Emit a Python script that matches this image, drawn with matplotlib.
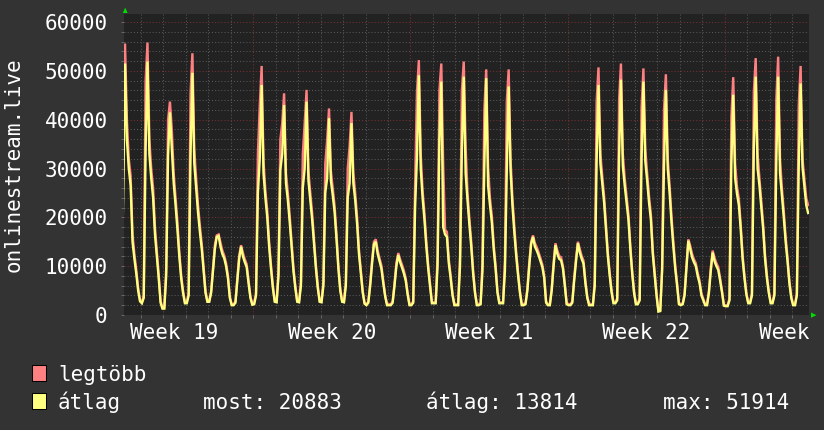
import matplotlib
matplotlib.use("Agg")
import matplotlib.pyplot as plt
from matplotlib.patches import Rectangle, Polygon
from matplotlib.transforms import Bbox, TransformedBbox, blended_transform_factory

# mintavetel: minden nap paratlan oraiban (1, 3, ..., 23), az 1. nap = Week 19 kedd
orak = [1, 3, 5, 7, 9, 11, 13, 15, 17, 19, 21, 23]

# atlag (sarga) - soronkent egy nap
atlag = [
    [2500, 2400, 24000, 51500, 36000, 30000, 26500, 15000, 11500, 8500, 5000, 2800],   # W19 K
    [2400, 3500, 34000, 51914, 33000, 28000, 24000, 16500, 12000, 7500, 2500, 1300],   # W19 Sze
    [1300, 8000, 32700, 41500, 34000, 27000, 22500, 17500, 12000, 7500, 4500, 2400],   # W19 Cs
    [2400, 4000, 32700, 49600, 31000, 26000, 21000, 17000, 13500, 9000, 4500, 2700],   # W19 P
    [2700, 4500, 9000, 13500, 16000, 16200, 14000, 12500, 11600, 10000, 7500, 3500],   # W19 Szo
    [2000, 2000, 2500, 7000, 11500, 14000, 12000, 10800, 9800, 6500, 3500, 2100],      # W19 V
    [2200, 4000, 25000, 32000, 47100, 29000, 24000, 20000, 14000, 9500, 5500, 2700],   # W20 H
    [2600, 8000, 29700, 33000, 43000, 27000, 23500, 19000, 14000, 9000, 5500, 2700],
    [2600, 6000, 26000, 30000, 43700, 27500, 23500, 19500, 14500, 9500, 5500, 2700],
    [2600, 6000, 25000, 28000, 40300, 27500, 24500, 21000, 15500, 9500, 5000, 2700],
    [2600, 6000, 24000, 27000, 39300, 27000, 23500, 18700, 12500, 8500, 4600, 2300],
    [2000, 2500, 6000, 10500, 14500, 15000, 12500, 11000, 9500, 6500, 3800, 2000],
    [2000, 2000, 2500, 6000, 10000, 12300, 10800, 9700, 8500, 7000, 4200, 2000],
    [2000, 2500, 22000, 32400, 49100, 30000, 24000, 19500, 14000, 9500, 5800, 2400],   # W21 H
    [2400, 2400, 10000, 35800, 47800, 18000, 16500, 16000, 10600, 7500, 4000, 2000],
    [2000, 2000, 10000, 33800, 48800, 29000, 23500, 18500, 14000, 8500, 4500, 2000],
    [2000, 2200, 9000, 30400, 48500, 26500, 22500, 19000, 13500, 9500, 4600, 2400],
    [2400, 2400, 9000, 29700, 46800, 29700, 22500, 17000, 12200, 8200, 4600, 2000],
    [2000, 2200, 5000, 10000, 14500, 16000, 14000, 13200, 12200, 11000, 9800, 7500],
    [2500, 2000, 2000, 5000, 10000, 14300, 12500, 11500, 11200, 9500, 6000, 2200],
    [2000, 2000, 2500, 7000, 11000, 14700, 12800, 11500, 10500, 6500, 3500, 2000],     # W22 H
    [2000, 2000, 6000, 31700, 47100, 31000, 27000, 23000, 17500, 12000, 8000, 4600],
    [2400, 2400, 3000, 32400, 48200, 30500, 26500, 23000, 19500, 13500, 8500, 4500],
    [2200, 2200, 3000, 31700, 47800, 31500, 27500, 23000, 19500, 12500, 8200, 4000],
    [700, 800, 9000, 30400, 46100, 30000, 25000, 19000, 14000, 9500, 6000, 2200],
    [2000, 2200, 4000, 9500, 15200, 13500, 11800, 10800, 10000, 8000, 6500, 4000],
    [3000, 2000, 2000, 4500, 9000, 12800, 11000, 10000, 9200, 7000, 4600, 1900],
    [1800, 1800, 3000, 31000, 45100, 28000, 24800, 22500, 17500, 11500, 7500, 4200],   # W23 H
    [2400, 2400, 4000, 33800, 48800, 30000, 26500, 22000, 17500, 11500, 7500, 4500],
    [2400, 2400, 4000, 31000, 48800, 29000, 24500, 20000, 15000, 11000, 6500, 3500],
    [2000, 2000, 4000, 30400, 47400, 30300, 26300, 22500, 20883],
]

# legtobb (rozsaszin) - soronkent egy nap
legtobb = [
    [2700, 2600, 30000, 55600, 40000, 32000, 28500, 16500, 12500, 9300, 5600, 3100],
    [2600, 4000, 48000, 55800, 36000, 30000, 26000, 18000, 13000, 8300, 2900, 1500],
    [1500, 9500, 40000, 43700, 38000, 29000, 24000, 19000, 13000, 8200, 5000, 2600],
    [2600, 4500, 45400, 53600, 34000, 28000, 22500, 18300, 14500, 9800, 5000, 2900],
    [2900, 4900, 9700, 14300, 16300, 16500, 14800, 13200, 12200, 10600, 8100, 3800],
    [2200, 2200, 2800, 7600, 12200, 14300, 12700, 11400, 10400, 7000, 3800, 2300],
    [2400, 4500, 33000, 43000, 51000, 31500, 25500, 21300, 15000, 10200, 6000, 2900],
    [2800, 9000, 36000, 39300, 45400, 29000, 25000, 20300, 15000, 9700, 6000, 2900],
    [2800, 6800, 33000, 39300, 46100, 29500, 25000, 20800, 15500, 10200, 6000, 2900],
    [2800, 6800, 31000, 35800, 42300, 29500, 26000, 22300, 16500, 10200, 5500, 2900],
    [2800, 6800, 30000, 34500, 41600, 29000, 25000, 20000, 13400, 9200, 5000, 2500],
    [2200, 2700, 6500, 11200, 15000, 15500, 13200, 11600, 10100, 7000, 4100, 2200],
    [2200, 2200, 2800, 6500, 10700, 12700, 11400, 10300, 9100, 7500, 4600, 2200],
    [2200, 2800, 27000, 45700, 52200, 33000, 25500, 20800, 15000, 10200, 6300, 2600],
    [2600, 2600, 12000, 46000, 51500, 31000, 17500, 17000, 11400, 8100, 4400, 2200],
    [2200, 2200, 12000, 46000, 51900, 34500, 25000, 19800, 15000, 9200, 4900, 2200],
    [2200, 2400, 11000, 42000, 50300, 30400, 24000, 20300, 14500, 10200, 5000, 2600],
    [2600, 2600, 11000, 43700, 50300, 32000, 24000, 18300, 13100, 8800, 5000, 2200],
    [2200, 2400, 5500, 10700, 15000, 16300, 14700, 13900, 12800, 11600, 10300, 8000],
    [2800, 2200, 2200, 5500, 10700, 14700, 13200, 12100, 11800, 10000, 6500, 2400],
    [2200, 2200, 2800, 7600, 11700, 15000, 13500, 12100, 11100, 7000, 3800, 2200],
    [2200, 2200, 7000, 43700, 50700, 33000, 28500, 24300, 18500, 12800, 8600, 5000],
    [2600, 2600, 3400, 44000, 51500, 33000, 28000, 24300, 20600, 14300, 9100, 4900],
    [2400, 2400, 3400, 42500, 50500, 34000, 29000, 24300, 20600, 13300, 8800, 4400],
    [900, 1000, 10000, 42000, 49300, 32000, 26500, 20300, 15000, 10200, 6500, 2400],
    [2200, 2400, 4400, 10200, 15500, 14200, 12500, 11400, 10600, 8600, 7000, 4400],
    [3300, 2200, 2200, 5000, 9700, 13200, 11700, 10600, 9800, 7500, 5000, 2100],
    [2000, 2000, 3400, 40600, 48700, 31000, 26300, 23800, 18500, 12300, 8100, 4600],
    [2600, 2600, 4500, 45700, 52600, 33000, 28000, 23300, 18500, 12300, 8100, 4900],
    [2600, 2600, 4500, 44000, 52900, 32000, 26000, 21300, 16000, 11800, 7000, 3800],
    [2200, 2200, 4500, 43000, 51000, 32000, 28000, 24000, 22500],
]

het_cimkek = ["Week 19", "Week 20", "Week 21", "Week 22", "Week 23"]
y_cimkek = ["0", "10000", "20000", "30000", "40000", "50000", "60000"]
stat_nevek = ["most:", "átlag:", "max:"]
stat_ertekek = [20883, 13814, 51914]

W, H = 824, 430


def fx(px):
    return px / W


def fy(py):
    return 1 - py / H


plt.rcParams['font.family'] = ['DejaVu Sans Mono']
FS = 15
TXT = '#ffffff'

# orak a Week 19 hetfo 0:00-tol
xs, ys_atl, ys_max = [], [], []
for d, (ra, rm) in enumerate(zip(atlag, legtobb), start=1):
    for h, a, m in zip(orak, ra, rm):
        xs.append(24 * d + h)
        ys_atl.append(a)
        ys_max.append(m)

fig = plt.figure(figsize=(W / 100, H / 100), dpi=100, facecolor='#333333')
ax = fig.add_axes([fx(124), fy(315), (809.5 - 124) / W, (315 - 14) / H], facecolor='#222222')

ax.plot(xs, ys_max, color='#ff8080', lw=1.7, zorder=3, solid_joinstyle='miter')
ax.plot(xs, ys_atl, color='#ffff80', lw=1.7, zorder=4, solid_joinstyle='miter')

ax.set_xlim(29.9, 762.5)
ax.set_ylim(0, 61640)

ax.set_yticks(range(0, 60001, 10000))
ax.set_yticklabels(y_cimkek)
ax.set_yticks(range(0, 61641, 2000), minor=True)
ax.set_xticks(range(168, 763, 168))
ax.set_xticks(range(48, 763, 24), minor=True)

ax.grid(which='major', color='#7a3030', linestyle=(0, (1, 2)), lw=0.75)
ax.grid(which='minor', color='#585858', linestyle=(0, (1, 2)), lw=0.75)
ax.tick_params(which='both', direction='out', length=2.2, width=0.75, color='#666666')
ax.tick_params(axis='x', labelbottom=False)
ax.tick_params(axis='y', labelsize=FS, labelcolor=TXT, pad=9.5)
for s in ax.spines.values():
    s.set_visible(False)

# het cimkek a het kozepere, jobb szelen levagva (mint az eredetin)
tr = blended_transform_factory(ax.transData, fig.transFigure)
clip = TransformedBbox(Bbox([[0, 0], [fx(811), 1]]), fig.transFigure)
for i, lbl in enumerate(het_cimkek):
    t = fig.text(84 + 168 * i, fy(339), lbl, transform=tr, ha='center', va='baseline',
                 fontsize=FS, color=TXT)
    t.set_clip_box(clip)
    t.set_clip_on(True)

fig.text(fx(13.5), fy(164.5), 'onlinestream.live', rotation=90, ha='center', va='center',
         fontsize=FS, color=TXT)

# nyilak
fig.add_artist(Polygon([[fx(122.8), fy(13)], [fx(127.6), fy(13)], [fx(125.2), fy(7.5)]],
                       closed=True, transform=fig.transFigure, color='#00dd00', lw=0))
fig.add_artist(Polygon([[fx(811), fy(312.5)], [fx(811), fy(317.8)], [fx(816.5), fy(315.2)]],
                       closed=True, transform=fig.transFigure, color='#00dd00', lw=0))

# jelmagyarazat
for py, col, nev in [(381, '#ff8080', 'legtöbb'), (409, '#ffff80', 'átlag')]:
    fig.add_artist(Rectangle((fx(32), fy(py)), 14 / W, 16 / H, transform=fig.transFigure,
                             facecolor=col, edgecolor='black', lw=0.75))
    fig.text(fx(58), fy(py), nev, ha='left', va='baseline', fontsize=FS, color=TXT)

for px, nev, ertek in zip([203, 426, 663], stat_nevek, stat_ertekek):
    fig.text(fx(px), fy(409), f"{nev} {ertek}", ha='left', va='baseline', fontsize=FS, color=TXT)

fig.savefig('out.png', dpi=100, facecolor=fig.get_facecolor())
